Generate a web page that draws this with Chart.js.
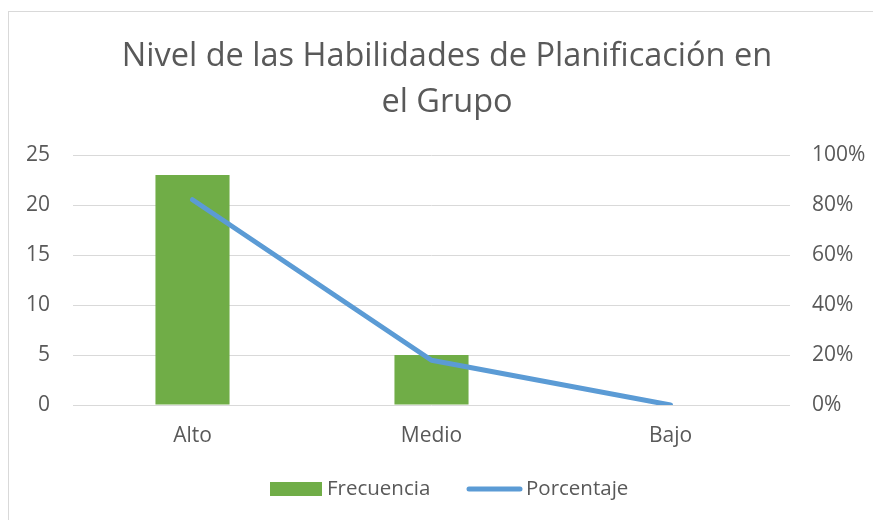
<!DOCTYPE html>
<html lang="es">
<meta charset="utf-8" />
<title>Nivel de las Habilidades de Planificación</title>
<script src="https://cdn.jsdelivr.net/npm/chart.js@4.4.1"></script>
<style>
html,body{margin:0;padding:0;background:#fff}
canvas{display:block}
</style>
<body>
<canvas id="chart" width="873" height="520"></canvas>
<script>
/* datos */
const niveles    = ['Alto', 'Medio', 'Bajo'];
const frecuencia = [23, 5, 0];
const porcentaje = [82.1, 17.9, 0];   // %
const titulo     = ['Nivel de las Habilidades de Planificación en', 'el Grupo'];

const FONT  = '"Open Sans", sans-serif';
const GRIS  = '#595959';
const VERDE = '#70AD47';
const AZUL  = '#5B9BD5';

/* fondo, borde, título y leyenda dibujados a mano */
const marco = {
  id: 'marco',
  beforeDraw(c) {
    const g = c.ctx;
    g.save();
    g.fillStyle = '#fff';
    g.fillRect(0, 0, c.width, c.height);
    g.strokeStyle = '#d9d9d9';
    g.lineWidth = 1;
    g.strokeRect(8.5, 11.5, 900, 600);
    g.restore();
  },
  afterDraw(c) {
    const g = c.ctx;
    const barras = c.data.datasets.find(d => d.type === 'bar');
    const linea  = c.data.datasets.find(d => d.type === 'line');
    g.save();
    g.fillStyle = GRIS;
    g.textAlign = 'center';
    g.textBaseline = 'middle';
    g.font = '32.5px ' + FONT;
    g.fillText(titulo[0], 447, 57);
    g.fillText(titulo[1], 447, 103);

    // leyenda
    g.font = '20.5px ' + FONT;
    g.textAlign = 'left';
    g.fillStyle = barras.backgroundColor;
    g.fillRect(270, 482, 52, 14);
    g.fillStyle = GRIS;
    g.fillText(barras.label, 327, 489);

    g.strokeStyle = linea.borderColor;
    g.lineWidth = 5;
    g.lineCap = 'round';
    g.beginPath();
    g.moveTo(469, 489);
    g.lineTo(520, 489);
    g.stroke();
    g.fillText(linea.label, 526, 489);
    g.restore();
  }
};

const fija = (prop, v) => s => { s[prop] = v; };
const fuente = { family:FONT, size:21 };

new Chart(document.getElementById('chart'), {
  data: {
    labels: niveles,
    datasets: [
      { type:'line', label:'Porcentaje', data:porcentaje, yAxisID:'y1',
        borderColor:AZUL, borderWidth:5, borderCapStyle:'round', borderJoinStyle:'round',
        pointRadius:0, tension:0, order:0 },
      { type:'bar', label:'Frecuencia', data:frecuencia, yAxisID:'y',
        backgroundColor:VERDE, categoryPercentage:1, barPercentage:0.31, order:1 }
    ]
  },
  options: {
    responsive:false,
    animation:false,
    layout:{ padding:{ top:155, left:0, right:0, bottom:0 } },
    plugins:{ legend:{ display:false }, title:{ display:false }, tooltip:{ enabled:false } },
    scales:{
      x:{
        grid:{ display:false, drawTicks:false }, border:{ display:false },
        ticks:{ color:GRIS, font:fuente, padding:18 },
        afterFit: fija('height', 115)
      },
      y:{
        position:'left', min:0, max:25,
        grid:{ color:'#d9d9d9', lineWidth:1, drawTicks:false }, border:{ display:false },
        ticks:{ stepSize:5, color:GRIS, font:fuente, padding:23 },
        afterFit: fija('width', 73)
      },
      y1:{
        position:'right', min:0, max:100,
        grid:{ display:false, drawTicks:false }, border:{ display:false },
        ticks:{ stepSize:20, color:GRIS, font:fuente, padding:22,
                callback: v => v + '%' },
        afterFit: fija('width', 83)
      }
    }
  },
  plugins:[marco]
});
</script>
</body>
</html>
